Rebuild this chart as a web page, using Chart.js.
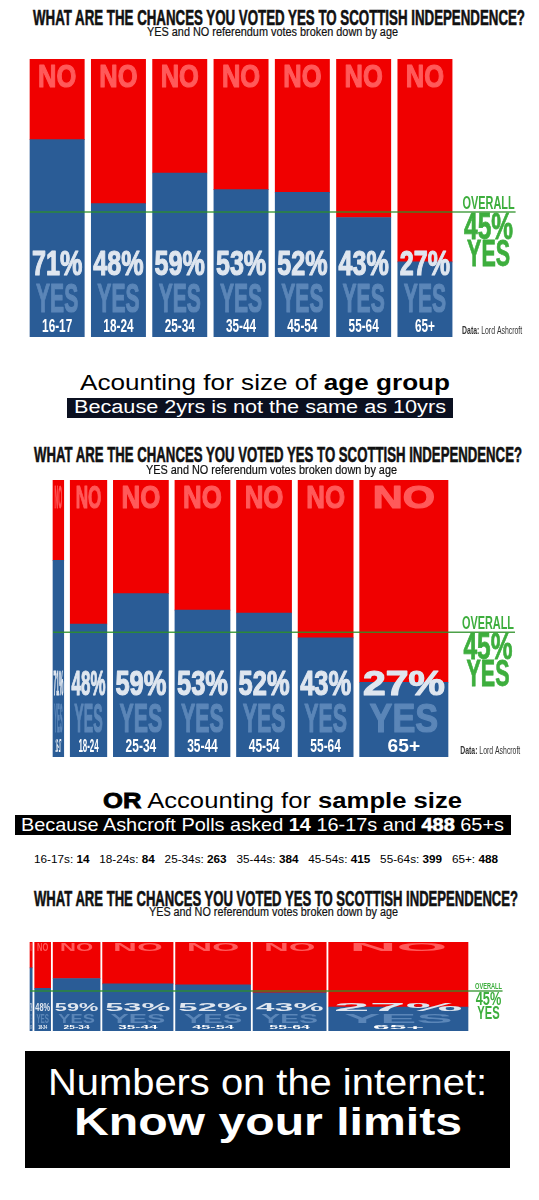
<!DOCTYPE html>
<html>
<head>
<meta charset="utf-8">
<script src="https://cdn.jsdelivr.net/npm/chart.js@4.4.1/dist/chart.umd.min.js"></script>
<style>
    body { margin: 0; background: #fff; }
    #page { position: relative; width: 539px; height: 1200px; overflow: hidden; font-family: "Liberation Sans", Arial, sans-serif; }
    .txt { position: absolute; white-space: nowrap; line-height: 1; transform-origin: 0 0; }
    .box { position: absolute; }
    canvas { position: absolute; left: 0; }
</style>
</head>
<body>
<div id="page">
    <div class="box" style="left:67px;top:398px;width:386px;height:20px;background:#0b1020"></div>
    <div class="box" style="left:15px;top:815px;width:496px;height:20px;background:#000"></div>
    <div class="box" style="left:25px;top:1051px;width:485px;height:117px;background:#000"></div>
    <canvas id="chartEqual" width="539" height="295" style="top:50px"></canvas>
    <canvas id="chartAge" width="539" height="295" style="top:470px"></canvas>
    <canvas id="chartSample" width="539" height="110" style="top:930px"></canvas>
</div>
<script>
// data
const ageGroups = ['16-17', '18-24', '25-34', '35-44', '45-54', '55-64', '65+'];
const yesPct = [71, 48, 59, 53, 52, 43, 27];
const noPct = [29, 52, 41, 47, 48, 57, 73];
const overallYes = 45;
const equalWidths = [1, 1, 1, 1, 1, 1, 1];
const ageSpanWidths = [2.8, 7, 10, 10, 10, 10, 15.4];      // years, as drawn
const sampleSizes = [14, 84, 263, 384, 415, 399, 488];
const sampleWidths = [25, 98, 263, 388, 412, 402, 754];    // respondents, as drawn (65+ drawn too wide)

const BLUE = '#2a5c96';
const RED = '#f00000';
const GREEN = '#3dae3d';
const NARROW = '"Liberation Sans Narrow", "Liberation Sans", sans-serif';

// reference bar is 54px wide and 278px tall (first chart)
const REF_W = 54, REF_H = 278;
const LABELS = {
    no:  { font: 'bold 32px ' + NARROW, ref: 'NO', width: 38, color: '#ff5a5a', stroke: 1.2 },
    pct: { font: 'bold 35px ' + NARROW, ref: '48%', width: 50, color: '#dfe6ef', stroke: 1.2 },
    yes: { font: 'bold 40px ' + NARROW, ref: 'YES', width: 42, color: '#5b86b8', stroke: 1.2 },
    age: { font: 'bold 18px ' + NARROW, ref: '16-17', width: 30, color: '#ffffff', stroke: 0 }
};

function drawLabel(ctx, text, x, y, type, sx, sy) {
    ctx.save();
    ctx.font = type.font;
    const k = type.width / ctx.measureText(type.ref).width;
    ctx.translate(x, y);
    ctx.scale(k * sx, sy);
    ctx.fillStyle = type.color;
    ctx.textAlign = 'center';
    ctx.textBaseline = 'alphabetic';
    ctx.fillText(text, 0, 0);
    if (type.stroke && sy > 0.5) {
        ctx.strokeStyle = type.color;
        ctx.lineWidth = type.stroke;
        ctx.lineJoin = 'round';
        ctx.strokeText(text, 0, 0);
    }
    ctx.restore();
}

function drawFit(ctx, text, x, y, font, width, color, stroke) {
    ctx.save();
    ctx.font = font;
    const natural = ctx.measureText(text).width;
    ctx.translate(x, y);
    ctx.scale(width / natural, 1);
    ctx.fillStyle = color;
    ctx.textAlign = 'center';
    ctx.textBaseline = 'alphabetic';
    ctx.fillText(text, 0, 0);
    if (stroke) {
        ctx.strokeStyle = color;
        ctx.lineWidth = stroke;
        ctx.strokeText(text, 0, 0);
    }
    ctx.restore();
}

const barLabels = {
    id: 'barLabels',
    afterDatasetsDraw(chart, args, opts) {
        const { ctx, chartArea, scales } = chart;
        const sy = chartArea.height / REF_H;

        ageGroups.forEach((age, i) => {
            const bar = chart.getDatasetMeta(2 * i).data[0];
            const w = bar.width, x = bar.x;
            const sx = w / REF_W;
            ctx.save();
            ctx.beginPath();
            ctx.rect(x - w / 2, chartArea.top, w, chartArea.height);
            ctx.clip();
            drawLabel(ctx, 'NO', x, chartArea.top + 28 * sy, LABELS.no, sx, sy);
            drawLabel(ctx, yesPct[i] + '%', x, chartArea.bottom - 62 * sy, LABELS.pct, sx, sy);
            drawLabel(ctx, 'YES', x, chartArea.bottom - 25 * sy, LABELS.yes, sx, sy);
            drawLabel(ctx, age, x, chartArea.bottom - 5 * sy, LABELS.age, sx, sy);
            ctx.restore();
        });

        // overall line + note
        const k = opts.noteScale;
        const cx = chartArea.right + opts.noteDx;
        const y = scales.y.getPixelForValue(overallYes);
        ctx.save();
        ctx.strokeStyle = 'rgba(45,145,40,0.85)';
        ctx.lineWidth = 1.5;
        ctx.beginPath();
        ctx.moveTo(chartArea.left + opts.gap / 2, y);
        ctx.lineTo(cx + 27 * k, y);
        ctx.stroke();
        ctx.restore();
        const st = k < 1 ? 0 : 0.8;
        drawFit(ctx, 'OVERALL', cx, y - 3 * k, 'bold ' + (19 * k) + 'px ' + NARROW, 52 * k, GREEN, 0);
        drawFit(ctx, overallYes + '%', cx, y + 27 * k, 'bold ' + (36 * k) + 'px ' + NARROW, 49 * k, GREEN, st);
        drawFit(ctx, 'YES', cx, y + 54 * k, 'bold ' + (36 * k) + 'px ' + NARROW, 43 * k, GREEN, st);

        if (opts.dataNote) {
            const x0 = chartArea.right + opts.dataDx;
            const yb = chartArea.bottom - 3;
            ctx.save();
            ctx.font = 'bold 10px ' + NARROW;
            const w1 = ctx.measureText('Data: ').width;
            ctx.font = '10px ' + NARROW;
            const w2 = ctx.measureText('Lord Ashcroft').width;
            const s = 60 / (w1 + w2);
            ctx.translate(x0, yb);
            ctx.scale(s, 1);
            ctx.fillStyle = '#333';
            ctx.textBaseline = 'alphabetic';
            ctx.font = 'bold 10px ' + NARROW;
            ctx.fillText('Data: ', 0, 0);
            ctx.font = '10px ' + NARROW;
            ctx.fillText('Lord Ashcroft', w1, 0);
            ctx.restore();
        }
    }
};

function makeChart(id, widths, pad, note) {
    const canvas = document.getElementById(id);
    const total = widths.reduce((a, b) => a + b, 0);
    const pxPerUnit = (canvas.width - pad.left - pad.right) / total;
    const datasets = [];
    let start = 0;
    widths.forEach((w, i) => {
        const centre = start + w / 2;
        start += w;
        const thick = w * pxPerUnit - note.gap;
        datasets.push({ label: 'YES ' + ageGroups[i], data: [{ x: centre, y: yesPct[i] }], backgroundColor: BLUE, barThickness: thick, stack: 'all' });
        datasets.push({ label: 'NO ' + ageGroups[i], data: [{ x: centre, y: noPct[i] }], backgroundColor: RED, barThickness: thick, stack: 'all' });
    });
    return new Chart(canvas, {
        type: 'bar',
        data: { datasets: datasets },
        options: {
            responsive: false,
            animation: false,
            layout: { padding: pad },
            scales: {
                x: { type: 'linear', min: 0, max: total, offset: false, stacked: true, display: false },
                y: { min: 0, max: 100, stacked: true, display: false }
            },
            plugins: {
                legend: { display: false },
                tooltip: { enabled: false },
                barLabels: note
            }
        },
        plugins: [barLabels]
    });
}

function place(html, x, w, base, size, style) {
    const el = document.createElement('div');
    el.className = 'txt';
    el.innerHTML = html;
    el.style.fontSize = size + 'px';
    el.style.left = x + 'px';
    el.style.top = (base - 0.846 * size) + 'px';
    Object.assign(el.style, style || {});
    document.getElementById('page').appendChild(el);
    const natural = el.getBoundingClientRect().width;
    el.style.transform = 'scaleX(' + (w / natural) + ')';
}

document.addEventListener('DOMContentLoaded', function() {
    const title = 'WHAT ARE THE CHANCES YOU VOTED YES TO SCOTTISH INDEPENDENCE?';
    const sub = 'YES and NO referendum votes broken down by age';
    const head = { fontFamily: NARROW, fontWeight: 'bold', color: '#111', webkitTextStroke: '0.6px #111' };
    const subStyle = { fontFamily: NARROW, color: '#111', webkitTextStroke: '0.2px #111' };

    // Chart 1: plain
    place(title, 33, 492, 26, 22, head);
    place(sub, 147, 251, 36, 12, subStyle);
    makeChart('chartEqual', equalWidths,
        { left: 26.5, right: 83.4, top: 9, bottom: 8 },
        { gap: 7, noteDx: 33, noteScale: 1, dataNote: true, dataDx: 6.5 });

    // Chart 2: width by age span
    place('Acounting for size of <b>age group</b>', 80, 370, 391, 22, { color: '#000' });
    place('Because 2yrs is not the same as 10yrs', 74, 372, 413, 18, { color: '#fff' });
    place(title, 34, 488, 463, 22, head);
    place(sub, 146, 251, 474, 12, subStyle);
    makeChart('chartAge', ageSpanWidths,
        { left: 49.75, right: 87.75, top: 10, bottom: 8 },
        { gap: 6.5, noteDx: 36.75, noteScale: 1, dataNote: true, dataDx: 9 });

    // Chart 3: width by sample size
    place('<b style="-webkit-text-stroke:0.8px #000">OR</b> Accounting for <b>sample size</b>', 103, 359, 809, 22, { color: '#000' });
    place('Because Ashcroft Polls asked <b>14</b> 16-17s and <b style="-webkit-text-stroke:0.6px #fff">488</b> 65+s', 21, 483, 831, 19, { color: '#fff' });
    const sampleLine = ageGroups.map((a, i) => (a === '65+' ? a : a + 's') + ': <b>' + sampleSizes[i] + '</b>').join('&nbsp;&nbsp;&nbsp;');
    place(sampleLine, 34, 464, 863, 11, { fontFamily: NARROW, color: '#000' });
    place(title, 34, 484, 907, 22, head);
    place(sub, 149, 249, 916, 12, subStyle);
    makeChart('chartSample', sampleWidths,
        { left: 28.75, right: 69.75, top: 12, bottom: 9 },
        { gap: 2.5, noteDx: 19.25, noteScale: 0.52, dataNote: false });

    // bottom box
    place('Numbers on the internet:', 48, 439, 1095, 37, { color: '#fff' });
    place('<b>Know your limits</b>', 74, 388, 1135, 38, { color: '#fff' });
});
</script>
</body>
</html>
